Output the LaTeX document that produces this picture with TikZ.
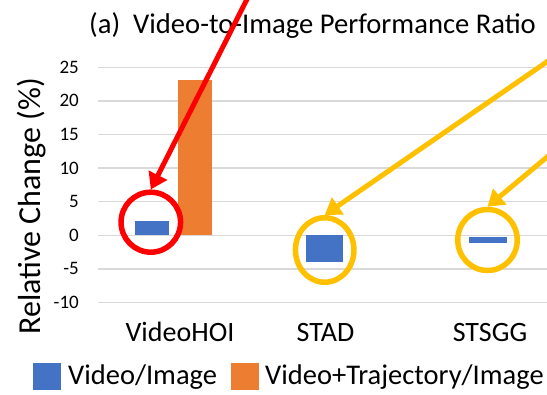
\documentclass[tikz,border=0pt]{standalone}
\usepackage{fontspec}
\setmainfont{Carlito}
\usetikzlibrary{arrows.meta,shapes.geometric}

\definecolor{barblue}{HTML}{4472C4}
\definecolor{barorange}{HTML}{ED7D31}
\definecolor{ringgold}{HTML}{FFC000}
\definecolor{gridgray}{HTML}{D9D9D9}

\begin{document}
\begin{tikzpicture}[x=1pt, y=-1pt,
    gridline/.style={gridgray, line width=1.3pt},
    tick/.style={anchor=east, inner sep=0pt, font=\fontsize{19}{19}\selectfont},
    catlabel/.style={anchor=base, inner sep=0pt, font=\fontsize{28}{28}\selectfont},
    legendkey/.style={minimum width=28pt, minimum height=27pt, inner sep=0pt},
    legendtext/.style={anchor=base west, inner sep=0pt, font=\fontsize{28.5}{28.5}\selectfont},
    ring/.style={ellipse, draw, line width=5.5pt, inner sep=0pt, outer sep=2.75pt},
    pointer/.style={line width=5pt, -{Triangle[length=16pt,width=20pt]}}]
    \useasboundingbox (0,0) rectangle (547,395);
    \clip (0,0) rectangle (547,395);

    % value axis: 0 at y=235.3, 6.72 per unit
    \begin{scope}[shift={(0,235.3)}, y=6.72pt]
        \draw[gridline] (98.3, 25) -- (547, 25);
        \draw[gridline] (98.3, 20) -- (547, 20);
        \draw[gridline] (98.3, 15) -- (547, 15);
        \draw[gridline] (98.3, 10) -- (547, 10);
        \draw[gridline] (98.3, 5) -- (547, 5);
        \draw[gridline] (98.3, 0) -- (547, 0);
        \draw[gridline] (98.3, -5) -- (547, -5);
        \draw[gridline] (98.3, -10) -- (547, -10);

        \node[tick] (t25) at (79, 25) {25};
        \node[tick] (t20) at (79, 20) {20};
        \node[tick] (t15) at (79, 15) {15};
        \node[tick] (t10) at (79, 10) {10};
        \node[tick] (t5) at (79, 5) {5};
        \node[tick] (t0) at (79, 0) {0};
        \node[tick] (tm5) at (79, -5) {-5};
        \node[tick] (tm10) at (79, -10) {-10};

        \fill[barblue] (135, 0) rectangle (169, 2.1);
        \fill[barorange] (178, 0) rectangle (212, 23.1);
        \fill[barblue] (306, 0) rectangle (343, -4.0);
        \fill[barblue] (469, -0.2) rectangle (507, -1.2);
    \end{scope}

    \node[anchor=base west, inner sep=0pt, font=\fontsize{28.6}{28.6}\selectfont] (title) at (89, 33.3)
        {(a)\ \ Video-to-Image Performance Ratio};
    \node[rotate=90, anchor=base, inner sep=0pt, font=\fontsize{32}{32}\selectfont] (ylab) at (41, 206.5)
        {Relative Change (\%)};

    \node[catlabel] (hoi) at (180, 341.7) {VideoHOI};
    \node[catlabel] (stad) at (325.5, 341.7) {STAD};
    \node[catlabel] (stsgg) at (490, 341.7) {STSGG};

    % legend
    \node[legendkey, fill=barblue] (keyvid) at (46.9, 376.5) {};
    \node[legendtext] (labvid) at (68, 385) {Video/Image};
    \node[legendkey, fill=barorange] (keytraj) at (244.5, 376.5) {};
    \node[legendtext] (labtraj) at (265, 385) {Video+Trajectory/Image};

    % highlight rings and pointers
    \node[ring, red, minimum width=59.5pt, minimum height=60pt] (hoiring) at (150.8, 222.2) {};
    \node[ring, ringgold, minimum width=58.5pt, minimum height=64.5pt] (stadring) at (324.7, 250) {};
    \node[ring, ringgold, minimum width=59.5pt, minimum height=61pt] (stsggring) at (487.5, 240) {};

    \coordinate (hoifrom) at (256.7, -20);
    \coordinate (stadfrom) at (580, 39);
    \coordinate (stsggfrom) at (580, 129.5);

    \draw[pointer, red] (hoifrom) -- (hoiring.north);
    \draw[pointer, ringgold] (stadfrom) -- (stadring.north);
    \draw[pointer, ringgold] (stsggfrom) -- (stsggring.north);
\end{tikzpicture}
\end{document}
